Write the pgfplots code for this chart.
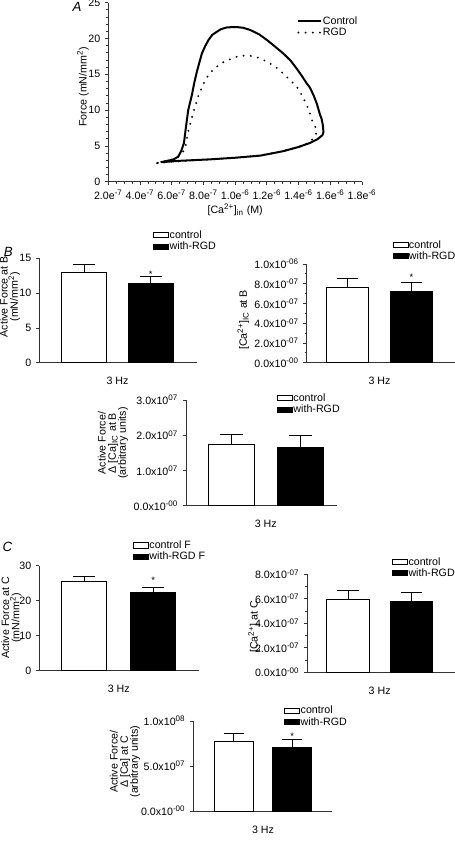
\documentclass[border=0pt]{standalone}
\usepackage{fontspec}
\setmainfont{Liberation Sans}
\usepackage{pgfplots}
\pgfplotsset{compat=1.18}
\newcommand\fs{\fontsize{8}{7.6}\selectfont}
\newcommand\su[1]{\textsuperscript{#1}}
\tikzset{sigstar/.style={font=\fontsize{7}{8}\selectfont, anchor=base, inner sep=0pt, yshift=-4pt}}
\pgfplotsset{
 gp/.style={scale only axis, anchor=south west, clip=false,
  axis x line=bottom, axis y line=left,
  axis line style={-, line width=0.6pt, black!80},
  every tick/.style={line width=0.6pt, black!80},
  tick align=outside, major tick length=2.5pt, minor tick length=1.5pt,
  tick label style={font=\fs}, label style={font=\fs, align=center},
  /pgf/number format/assume math mode=true,
  scaled x ticks=false, scaled y ticks=false},
 bars/.style={gp, xtick={1.5}, xticklabels={3 Hz}, x tick style={draw=none},
  xticklabel style={yshift=-5pt}, ymin=0,
  legend style={draw=none, fill=none, inner sep=0pt, anchor=west, font=\fs,
   row sep=1.2pt, nodes={inner sep=0.3pt, text height=5.8pt, text depth=0.8pt},
   /tikz/every odd column/.append style={column sep=0.3pt}},
  legend cell align=left},
 bctrl/.style={fill=white, draw=black, line width=0.5pt, bar shift=0pt,
  legend image code/.code={\draw[##1,line width=0.5pt] (0pt,-1.9pt) rectangle (11.25pt,1.9pt);},
  error bars/.cd, y dir=plus, y explicit,
  error bar style={line width=0.6pt, black},
  error mark options={rotate=90, line width=0.6pt, black, mark size=#1}},
 brgd/.style={fill=black, draw=black, line width=0.5pt, bar shift=0pt,
  legend image code/.code={\draw[##1,line width=0.5pt] (0pt,-1.9pt) rectangle (11.25pt,1.9pt);},
  error bars/.cd, y dir=plus, y explicit,
  error bar style={line width=0.6pt, black},
  error mark options={rotate=90, line width=0.6pt, black, mark size=#1}},
}
\begin{document}
\begin{tikzpicture}
\path[use as bounding box] (0pt,0pt) rectangle (340.5pt,-632.25pt);
% panel letters
\node[font=\fontsize{10}{12}\selectfont\itshape] at (57.75pt,-5.5pt) {A};
\node[font=\fontsize{10}{12}\selectfont\itshape] at (6.2pt,-188.8pt) {B};
\node[font=\fontsize{10}{12}\selectfont\itshape] at (5.5pt,-410pt) {C};

% ---------------- Panel A
\begin{axis}[gp, at={(81.23pt,-136.28pt)}, width=190.28pt, height=134.25pt,
  xmin=2e-7, xmax=1.8e-6, ymin=0, ymax=25,
  xtick={2e-7,4e-7,6e-7,8e-7,1e-6,1.2e-6,1.4e-6,1.6e-6,1.8e-6},
  xticklabels={2.0e\su{-7},4.0e\su{-7},6.0e\su{-7},8.0e\su{-7},1.0e\su{-6},1.2e\su{-6},1.4e\su{-6},1.6e\su{-6},1.8e\su{-6}},
  ytick={0,5,10,15,20,25}, minor x tick num=3, minor y tick num=4,
  xlabel={[Ca\su{2+}]\textsubscript{in} (M)},
  ylabel={Force (mN/mm\su{2})},
  xlabel style={at={(axis description cs:0.5,-0.158)}, anchor=center},
  ylabel style={at={(axis description cs:-0.10,0.53)}, anchor=center},
  legend style={at={(axis description cs:0.744,0.866)}, anchor=west, draw=none, fill=none,
   inner sep=0pt, font=\fs, row sep=1.2pt, nodes={inner sep=0.5pt, text height=5.8pt, text depth=0.8pt}},
  legend cell align=left]
\addplot[black, line width=1.5pt, line join=round] coordinates {
(5.30e-7,2.72) (6.5e-7,2.92) (8.4e-7,3.12) (1.0e-6,3.35) (1.16e-6,3.65) (1.30e-6,4.25)
(1.40e-6,4.85) (1.47e-6,5.40) (1.52e-6,5.95) (1.55e-6,6.50) (1.557e-6,6.90) (1.553e-6,7.90)
(1.545e-6,8.80) (1.536e-6,9.30) (1.515e-6,10.9) (1.494e-6,12.1) (1.47e-6,13.2) (1.452e-6,13.7)
(1.42e-6,14.8) (1.388e-6,15.8) (1.35e-6,16.9) (1.304e-6,17.9) (1.25e-6,18.9) (1.2e-6,19.8)
(1.15e-6,20.6) (1.094e-6,21.2) (1.05e-6,21.5) (1.01e-6,21.6) (9.48e-7,21.56) (9.1e-7,21.3)
(8.85e-7,20.95) (8.55e-7,20.5) (8.32e-7,19.8) (8.1e-7,18.9) (7.9e-7,17.9) (7.75e-7,16.7)
(7.59e-7,15.4) (7.42e-7,13.8) (7.27e-7,12.1) (7.04e-7,10.0) (6.9e-7,7.7) (6.77e-7,5.4)
(6.6e-7,4.3) (6.41e-7,3.5) (6.1e-7,3.1) (5.68e-7,2.9) (5.30e-7,2.72)
};
\addlegendentry{Control}
\addplot[black, line width=1.6pt, line cap=round, dash pattern=on 0pt off 5.4pt] coordinates {
(5.07e-7,2.6) (6.0e-7,2.8) (8.0e-7,3.05) (1.0e-6,3.35) (1.16e-6,3.65) (1.3e-6,4.25)
(1.4e-6,4.85) (1.46e-6,5.4) (1.494e-6,6.06) (1.515e-6,6.9) (1.505e-6,7.68) (1.484e-6,8.6)
(1.468e-6,9.78) (1.447e-6,10.95) (1.42e-6,12.1) (1.388e-6,13.3) (1.346e-6,14.2) (1.304e-6,15.1)
(1.262e-6,15.9) (1.22e-6,16.5) (1.178e-6,17.0) (1.136e-6,17.4) (1.09e-6,17.6) (1.042e-6,17.6)
(1.0e-6,17.4) (9.58e-7,17.0) (9.16e-7,16.6) (8.74e-7,15.9) (8.38e-7,15.1) (8.11e-7,14.2)
(7.9e-7,13.1) (7.69e-7,12.1) (7.54e-7,10.95) (7.37e-7,9.78) (7.21e-7,8.4) (7.06e-7,7.2)
(6.96e-7,6.06) (6.85e-7,4.66) (6.6e-7,3.8) (6.2e-7,3.2) (5.7e-7,2.9) (5.07e-7,2.6)
};
\addlegendentry{RGD}
\end{axis}

% ---------------- Panel B left
\begin{axis}[bars, at={(29.48pt,-272.03pt)}, width=118.05pt, height=78.3pt,
  xmin=0.326, xmax=2.689, ymax=15, ytick={0,5,10,15}, bar width=0.676,
  ylabel={Active Force at B\\(mN/mm\su{2})},
  ylabel style={at={(axis description cs:-0.186,0.632)}, anchor=center},
  legend style={at={(axis description cs:0.722,1.167)}}]
\addplot[ybar, bctrl=8.4pt] coordinates {(1,13.0) +- (0,1.1)};
\addlegendentry{control}
\addplot[ybar, brgd=8.4pt] coordinates {(2,11.45) +- (0,1.0)};
\addlegendentry{with-RGD}
\node[sigstar] at (axis cs:2,12.95) {*};
\end{axis}

% ---------------- Panel B right
\begin{axis}[bars, at={(230.03pt,-272.03pt)}, width=111.98pt, height=74.03pt,
  xmin=0.3625, xmax=2.695, ymax=1e-6, bar width=0.65,
  ytick={0,2e-7,4e-7,6e-7,8e-7,1e-6}, minor y tick num=1,
  yticklabels={0.0x10\su{-00},2.0x10\su{-07},4.0x10\su{-07},6.0x10\su{-07},8.0x10\su{-07},1.0x10\su{-06}},
  ylabel={[Ca\su{2+}]\textsubscript{IC} at B},
  ylabel style={at={(axis description cs:-0.425,0.433)}, anchor=center},
  legend style={at={(axis description cs:0.573,1.137)}}]
\addplot[ybar, bctrl=8.1pt] coordinates {(1,7.64e-7) +- (0,0.91e-7)};
\addlegendentry{control}
\addplot[ybar, brgd=8.1pt] coordinates {(2,7.2e-7) +- (0,0.95e-7)};
\addlegendentry{with-RGD}
\node[sigstar] at (axis cs:2,8.85e-7) {*};
\end{axis}

% ---------------- Panel B bottom
\begin{axis}[bars, at={(139.5pt,-379.28pt)}, width=113.25pt, height=79.28pt,
  xmin=0.346, xmax=2.531, ymax=3e7, bar width=0.663,
  ytick={0,1e7,2e7,3e7},
  yticklabels={0.0x10\su{-00},1.0x10\su{07},2.0x10\su{07},3.0x10\su{07}},
  ylabel={Active Force/\\Δ [Ca]\textsubscript{IC} at B\\(arbitrary units)},
  ylabel style={at={(axis description cs:-0.483,0.593)}, anchor=center},
  legend style={at={(axis description cs:0.601,0.9636)}}]
\addplot[ybar, bctrl=8.6pt] coordinates {(1,1.75e7) +- (0,0.28e7)};
\addlegendentry{control}
\addplot[ybar, brgd=8.6pt] coordinates {(2,1.66e7) +- (0,0.33e7)};
\addlegendentry{with-RGD}
\end{axis}

% ---------------- Panel C left
\begin{axis}[bars, at={(29.48pt,-503.03pt)}, width=120pt, height=78.75pt,
  xmin=0.349, xmax=2.668, ymax=30, ytick={0,10,20,30}, bar width=0.652,
  ylabel={Active Force at C\\(mN/mm\su{2})},
  ylabel style={at={(axis description cs:-0.174,0.502)}, anchor=center},
  legend style={at={(axis description cs:0.584,1.141)}}]
\addplot[ybar, bctrl=8.4pt] coordinates {(1,25.4) +- (0,1.5)};
\addlegendentry{control F}
\addplot[ybar, brgd=8.4pt] coordinates {(2,22.4) +- (0,1.4)};
\addlegendentry{with-RGD F}
\node[sigstar] at (axis cs:2,26.3) {*};
\end{axis}

% ---------------- Panel C right
\begin{axis}[bars, at={(230.48pt,-504.23pt)}, width=111.53pt, height=73.5pt,
  xmin=0.357, xmax=2.706, ymax=8e-7, bar width=0.673,
  ytick={0,2e-7,4e-7,6e-7,8e-7}, minor y tick num=1,
  yticklabels={0.0x10\su{-00},2.0x10\su{-07},4.0x10\su{-07},6.0x10\su{-07},8.0x10\su{-07}},
  ylabel={[Ca\su{2+}] at C},
  ylabel style={at={(axis description cs:-0.358,0.465)}, anchor=center},
  legend style={at={(axis description cs:0.568,1.069)}}]
\addplot[ybar, bctrl=8.1pt] coordinates {(1,5.98e-7) +- (0,0.74e-7)};
\addlegendentry{control}
\addplot[ybar, brgd=8.1pt] coordinates {(2,5.76e-7) +- (0,0.77e-7)};
\addlegendentry{with-RGD}
\end{axis}

% ---------------- Panel C bottom
\begin{axis}[bars, at={(144.98pt,-608.25pt)}, width=103.8pt, height=67.5pt,
  xmin=0.3065, xmax=2.676, ymax=1e8, bar width=0.668,
  ytick={0,5e7,1e8},
  yticklabels={0.0x10\su{-00},5.0x10\su{07},1.0x10\su{08}},
  ylabel={Active Force/\\Δ [Ca] at C\\(arbitrary units)},
  ylabel style={at={(axis description cs:-0.493,0.548)}, anchor=center},
  legend style={at={(axis description cs:0.655,1.053)}}]
\addplot[ybar, bctrl=7.6pt] coordinates {(1,7.74e7) +- (0,0.89e7)};
\addlegendentry{control}
\addplot[ybar, brgd=7.6pt] coordinates {(2,7.03e7) +- (0,0.94e7)};
\addlegendentry{with-RGD}
\node[sigstar] at (axis cs:2,8.5e7) {*};
\end{axis}
\end{tikzpicture}
\end{document}
